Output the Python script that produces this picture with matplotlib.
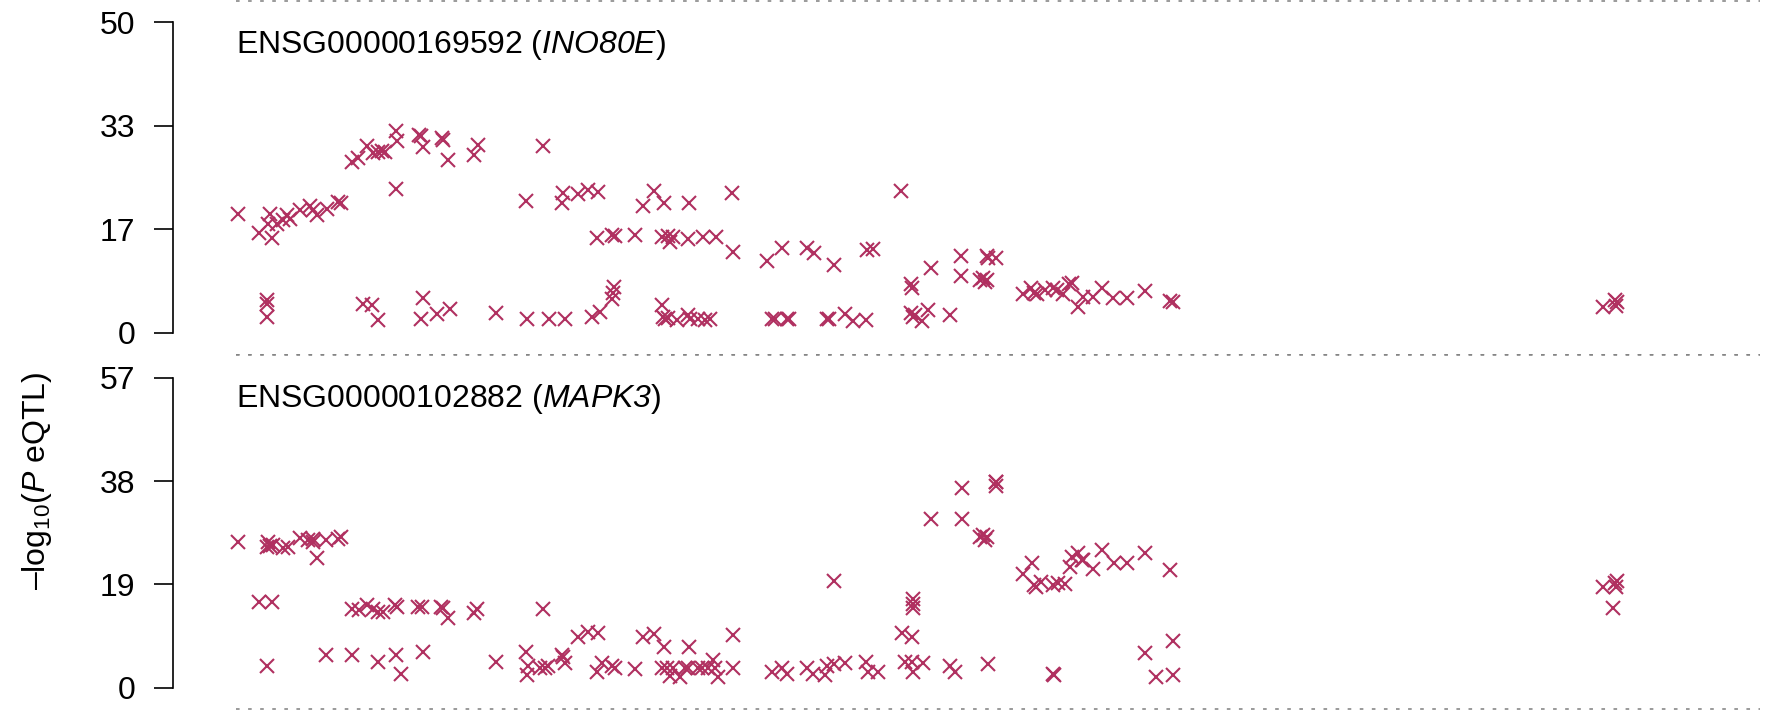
import matplotlib
matplotlib.use("Agg")
import matplotlib.pyplot as plt

plt.rcParams['font.family'] = ['Liberation Sans', 'DejaVu Sans']
plt.rcParams['mathtext.fontset'] = 'custom'
plt.rcParams['mathtext.rm'] = 'Liberation Sans'
plt.rcParams['mathtext.it'] = 'Liberation Sans:italic'
plt.rcParams['mathtext.sf'] = 'Liberation Sans:italic'
plt.rcParams['lines.scale_dashes'] = False

# position along the region (arbitrary kb units), -log10 P
ino80e_pos = [2, 23, 32, 34, 36, 41, 47, 51, 54, 64, 74, 77, 81, 91, 102, 105,
              116, 122, 131, 137, 142, 146, 149, 160, 161, 160, 183, 185, 187, 206, 207, 212, 238, 242,
              31, 31, 31, 127, 136, 142, 187, 185, 201, 214, 260,
              290, 307, 326, 327, 342, 352, 362, 361, 376, 379, 399, 407, 418, 428, 426, 432, 434, 437,
              453, 452, 467, 480, 496, 497, 531, 546, 571, 578, 598, 631, 637,
              291, 313, 329, 356, 364, 376, 377, 378, 426, 427, 429, 432, 441, 452, 454, 462, 469, 474,
              536, 539, 551, 553, 591, 593, 609, 617, 630,
              665, 675, 676, 675, 677, 679, 686, 692, 695, 714, 725, 725, 744, 747, 749, 751, 751, 752, 760,
              787, 795, 798, 801, 809, 817, 821, 827, 833, 836, 842, 847, 857, 866, 877, 891, 909, 934, 937,
              1367, 1379, 1380, 1381]
ino80e_p = [19.2, 16.0, 17.5, 19.2, 15.2, 17.6, 18.2, 19.0, 18.4, 19.8, 20.4, 19.8, 19.0, 20.0, 21.1, 20.9,
            27.5, 28.2, 30.0, 28.9, 29.1, 29.3, 29.1, 32.5, 30.8, 23.1, 31.8, 31.7, 29.9, 31.3, 31.1, 27.8, 28.6, 30.3,
            5.3, 4.7, 2.5, 4.7, 4.5, 2.1, 5.7, 2.2, 3.0, 3.9, 3.2,
            21.3, 30.0, 20.9, 22.5, 22.3, 23.0, 22.7, 15.2, 15.8, 15.6, 15.8, 20.4, 22.8, 20.9, 15.4, 15.6, 14.7, 15.5,
            20.9, 15.1, 15.4, 15.5, 22.5, 13.1, 11.6, 13.7, 13.6, 12.9, 10.9, 13.3, 13.5,
            2.2, 2.2, 2.2, 2.5, 3.4, 5.4, 6.4, 7.4, 4.5, 2.6, 2.2, 2.4, 2.1, 2.9, 2.2, 2.2, 2.1, 2.2,
            2.2, 2.2, 2.2, 2.2, 2.2, 2.2, 3.1, 2.0, 2.1,
            22.8, 7.9, 7.2, 3.2, 2.5, 2.9, 2.0, 3.7, 10.5, 2.9, 12.4, 9.2, 8.5, 8.8, 8.2, 8.5, 12.3, 12.0, 12.0,
            6.2, 7.2, 6.4, 6.3, 6.9, 7.2, 6.9, 6.3, 7.9, 8.0, 4.2, 5.8, 5.8, 7.3, 5.6, 5.6, 6.7, 5.2, 5.0,
            4.2, 5.3, 4.3, 5.0]

mapk3_pos = [2, 31, 32, 34, 37, 47, 52, 64, 72, 77, 77, 81, 90, 102, 105,
             23, 36, 116, 123, 131, 137, 142, 147, 159, 161, 182, 186, 205, 207, 212, 238, 241, 307,
             31, 90, 116, 142, 160, 165, 187, 260, 290, 292, 291, 304, 309, 312, 326, 327, 329,
             342, 352, 362, 361, 366, 376, 379, 399, 407, 418, 428, 426, 431, 434, 437, 444, 449, 452, 453,
             462, 466, 472, 477, 479, 482, 497, 497, 536, 546, 551, 571, 577, 589, 591, 598, 609, 630, 632,
             642, 666, 676, 677, 677, 677, 669, 676, 677, 687, 695, 714, 719, 726, 726, 744, 747, 749, 751,
             760, 760, 752, 787, 796, 798, 800, 805, 817, 818, 817, 822, 829, 834, 836, 842, 847, 846, 857,
             866, 878, 891, 909, 909, 920, 934, 937, 937,
             1367, 1379, 1380, 1381, 1377, 760, 598]
mapk3_p = [26.8, 25.9, 26.8, 26.0, 26.2, 25.6, 25.9, 27.5, 27.2, 27.3, 26.7, 23.8, 27.2, 27.3, 27.7,
           15.8, 15.8, 14.4, 14.2, 15.2, 14.4, 14.0, 14.0, 15.2, 14.9, 14.8, 14.8, 14.9, 14.6, 12.9, 13.8, 14.4, 14.4,
           4.0, 6.0, 6.0, 4.7, 6.0, 2.5, 6.6, 4.8, 6.6, 3.9, 2.3, 3.7, 3.6, 3.9, 6.1, 5.6, 4.5,
           9.3, 10.3, 10.0, 2.8, 4.5, 3.9, 3.6, 3.4, 9.4, 9.9, 7.4, 3.7, 3.6, 2.1, 3.6, 1.9, 3.7, 3.7, 7.4,
           3.7, 3.7, 3.7, 5.1, 3.7, 2.0, 3.6, 9.7, 2.8, 3.7, 2.5, 3.7, 2.6, 2.3, 4.0, 4.4, 4.5, 4.8, 2.9,
           2.8, 10.0, 9.3, 16.4, 14.7, 15.4, 4.8, 4.8, 2.9, 4.5, 31.1, 3.9, 2.8, 36.7, 31.1, 27.8, 28.1, 27.2, 27.8,
           37.9, 37.0, 4.4, 20.9, 22.9, 18.9, 18.6, 19.5, 2.5, 2.3, 18.9, 19.3, 19.1, 22.2, 24.1, 24.8, 23.5,
           23.5, 21.8, 25.3, 22.9, 23.0, 24.8, 6.4, 2.0, 21.6, 8.5, 2.3,
           18.6, 19.3, 18.5, 19.7, 14.6, 37.9, 19.6]

genes = ['ENSG00000169592 ($\\mathsf{INO80E}$)', 'ENSG00000102882 ($\\mathsf{MAPK3}$)']
ymax = [50, 57]
ticklabels = [['0', '17', '33', '50'], ['0', '19', '38', '57']]
panels = [(ino80e_pos, ino80e_p), (mapk3_pos, mapk3_p)]

W, H = 1787, 716
fig = plt.figure(figsize=(W / 100, H / 100), dpi=100)

# pixel layout of each panel: (top of panel, bottom of panel, y of max, y of 0)
layout = [(1, 355, 22, 333), (355, 709, 377.7, 687.7)]
x0, x1 = 236, 1760
col = '#B03060'

for i, (pos, p) in enumerate(panels):
    top, bot, ytop, yzero = layout[i]
    ax = fig.add_axes([x0 / W, 1 - bot / H, (x1 - x0) / W, (bot - top) / H])
    scale = (yzero - ytop) / ymax[i]
    ax.set_ylim(-(bot - yzero) / scale, ymax[i] + (ytop - top) / scale)
    ax.set_xlim(0, x1 - x0)
    ax.plot(pos, p, linestyle='', marker='x', color=col, markersize=10, mew=1.5, clip_on=False)
    for sp in ['top', 'right', 'bottom']:
        ax.spines[sp].set_visible(False)
    ax.spines['left'].set_position(('outward', (x0 - 173) * 0.72))
    ax.spines['left'].set_bounds(0, ymax[i])
    ax.spines['left'].set_linewidth(1.2)
    ax.set_xticks([])
    ax.set_yticks([0, ymax[i] / 3, 2 * ymax[i] / 3, ymax[i]])
    ax.set_yticklabels(ticklabels[i])
    ax.tick_params(axis='y', length=13.7, width=1.2, pad=13.5, labelsize=23)
    lo, hi = ax.get_ylim()
    for yy in (lo, hi):
        ax.axhline(yy, color='#7f7f7f', linewidth=1.1, dashes=(2.6, 6.1), clip_on=False)
    fig.text(x0 / W, 1 - (top + (53 - 1)) / H, genes[i], fontsize=23, va='baseline', ha='left')

fig.text(37 / W, 1 - 481 / H, '\u2013log$_{10}$($\\mathsf{P}$ eQTL)', rotation=90, fontsize=23,
         ha='center', va='center')

fig.savefig('out.png', dpi=100)
